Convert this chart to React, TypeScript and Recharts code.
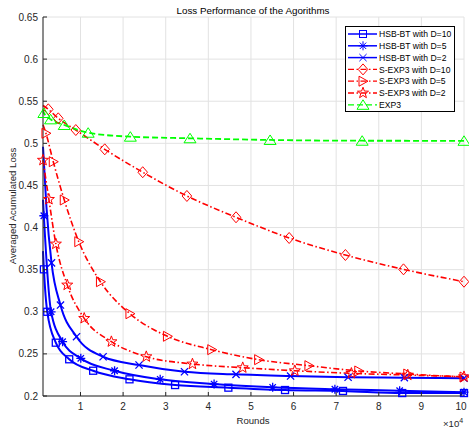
import React from 'react';
import { LineChart, Line, XAxis, YAxis, CartesianGrid } from 'recharts';

const xTicks = [1, 2, 3, 4, 5, 6, 7, 8, 9, 10];
const yTicks = [0.2, 0.25, 0.3, 0.35, 0.4, 0.45, 0.5, 0.55, 0.6, 0.65];

const hsb10X = [0.12, 0.141, 0.22, 0.42, 0.735, 1.297, 2.15, 3.22, 4.47, 5.8, 7.16, 8.55, 10];
const hsb10Y = [0.372, 0.3504, 0.3, 0.2633, 0.2436, 0.23, 0.2198, 0.213, 0.2099, 0.2071, 0.206, 0.2035, 0.2035];

const hsb5X = [0.12, 0.14, 0.31, 0.58, 1.007, 1.8, 2.87, 4.135, 5.51, 6.97, 8.49, 10];
const hsb5Y = [0.433, 0.414, 0.3, 0.2645, 0.2447, 0.23, 0.2198, 0.2142, 0.2103, 0.208, 0.2063, 0.2045];

const hsb2X = [0.12, 0.2, 0.32, 0.53, 0.907, 1.53, 2.374, 3.44, 4.65, 5.93, 7.28, 8.6, 10];
const hsb2Y = [0.496, 0.425, 0.358, 0.308, 0.2704, 0.2466, 0.2368, 0.2288, 0.2257, 0.2237, 0.2222, 0.2217, 0.221];

const sexp10X = [0.12, 0.244, 0.478, 0.89, 1.569, 2.46, 3.497, 4.65, 5.897, 7.217, 8.58, 10];
const sexp10Y = [0.545, 0.5404, 0.5297, 0.5158, 0.4929, 0.4657, 0.4375, 0.4122, 0.3876, 0.3674, 0.3504, 0.3357];

const sexp5X = [0.12, 0.189, 0.361, 0.619, 0.96, 1.468, 2.16, 3.04, 4.08, 5.18, 6.36, 7.53, 8.68, 10];
const sexp5Y = [0.522, 0.5119, 0.4782, 0.4327, 0.3832, 0.3357, 0.2977, 0.2709, 0.255, 0.2431, 0.236, 0.2297, 0.2261, 0.2225];

const sexp2X = [0.12, 0.258, 0.422, 0.689, 1.087, 1.725, 2.544, 3.627, 4.807, 6.03, 7.357, 8.68, 10];
const sexp2Y = [0.48, 0.4335, 0.3805, 0.3318, 0.2922, 0.2645, 0.2467, 0.238, 0.2336, 0.23, 0.2269, 0.2249, 0.2229];

const exp3X = [0.12, 0.141, 0.298, 0.619, 1.18, 2.17, 3.57, 5.45, 7.61, 10];
const exp3Y = [0.54, 0.536, 0.5285, 0.5218, 0.5126, 0.5079, 0.506, 0.504, 0.5031, 0.503];

const names = [
  'HSB-BT with D=10',
  'HSB-BT with D=5',
  'HSB-BT with D=2',
  'S-EXP3 with D=10',
  'S-EXP3 with D=5',
  'S-EXP3 with D=2',
  'EXP3',
];

const BLUE = '#0000ff';
const RED = '#ff0000';
const GREEN = '#00ff00';
const AX = '#262626';
const FONT = '"Liberation Sans", Arial, Helvetica, sans-serif';

type Shape = 'square' | 'asterisk' | 'cross' | 'diamond' | 'right' | 'star' | 'up';

const series = [
  { name: names[0], xs: hsb10X, ys: hsb10Y, color: BLUE, dash: undefined, width: 2, shape: 'square' as Shape, markFrom: 1 },
  { name: names[1], xs: hsb5X, ys: hsb5Y, color: BLUE, dash: undefined, width: 2, shape: 'asterisk' as Shape, markFrom: 1 },
  { name: names[2], xs: hsb2X, ys: hsb2Y, color: BLUE, dash: undefined, width: 2, shape: 'cross' as Shape, markFrom: 2 },
  { name: names[3], xs: sexp10X, ys: sexp10Y, color: RED, dash: '6 2.5 1.5 2.5', width: 1.6, shape: 'diamond' as Shape, markFrom: 1 },
  { name: names[4], xs: sexp5X, ys: sexp5Y, color: RED, dash: '6 2.5 1.5 2.5', width: 1.6, shape: 'right' as Shape, markFrom: 1 },
  { name: names[5], xs: sexp2X, ys: sexp2Y, color: RED, dash: '6 2.5 1.5 2.5', width: 1.6, shape: 'star' as Shape, markFrom: 0 },
  { name: names[6], xs: exp3X, ys: exp3Y, color: GREEN, dash: '6 3', width: 1.8, shape: 'up' as Shape, markFrom: 1 },
];

function starPath(cx: number, cy: number, R: number, r: number) {
  let d = '';
  for (let k = 0; k < 10; k++) {
    const rad = k % 2 === 0 ? R : r;
    const a = -Math.PI / 2 + (k * Math.PI) / 5;
    d += (k === 0 ? 'M' : 'L') + (cx + rad * Math.cos(a)).toFixed(2) + ',' + (cy + rad * Math.sin(a)).toFixed(2);
  }
  return d + 'Z';
}

function Marker({ shape, cx, cy, color, sw }: { shape: Shape; cx: number; cy: number; color: string; sw: number }) {
  const s = { fill: 'none', stroke: color, strokeWidth: sw, strokeDasharray: 'none' };
  switch (shape) {
    case 'square':
      return <rect x={cx - 3.5} y={cy - 3.5} width={7} height={7} {...s} />;
    case 'asterisk':
      return (
        <path
          d={`M${cx - 4.5},${cy}H${cx + 4.5}M${cx},${cy - 4.5}V${cy + 4.5}M${cx - 3.2},${cy - 3.2}L${cx + 3.2},${cy + 3.2}M${cx - 3.2},${cy + 3.2}L${cx + 3.2},${cy - 3.2}`}
          {...s}
        />
      );
    case 'cross':
      return <path d={`M${cx - 3.6},${cy - 3.6}L${cx + 3.6},${cy + 3.6}M${cx - 3.6},${cy + 3.6}L${cx + 3.6},${cy - 3.6}`} {...s} />;
    case 'diamond':
      return <path d={`M${cx},${cy - 5.5}L${cx + 4.8},${cy}L${cx},${cy + 5.5}L${cx - 4.8},${cy}Z`} {...s} />;
    case 'right':
      return <path d={`M${cx - 4},${cy - 5}L${cx + 5},${cy}L${cx - 4},${cy + 5}Z`} {...s} />;
    case 'star':
      return <path d={starPath(cx, cy, 5.8, 2.4)} {...s} />;
    case 'up':
      return <path d={`M${cx},${cy - 5}L${cx + 6},${cy + 4.5}L${cx - 6},${cy + 4.5}Z`} {...s} />;
  }
  return null;
}

const makeDot = (name: string, shape: Shape, color: string, markFrom: number) => (props: any) => {
  const { cx, cy, index } = props;
  if (index < markFrom || cx == null || cy == null) return <g key={`${name}-${index}`} />;
  return (
    <g key={`${name}-${index}`}>
      <Marker shape={shape} cx={cx} cy={cy} color={color} sw={color === BLUE ? 1.3 : 1} />
    </g>
  );
};

const YTick = (props: any) => {
  const { x, y, payload } = props;
  return (
    <g>
      <line x1={x} y1={y} x2={x + 4} y2={y} stroke={AX} strokeWidth={1} />
      <text x={x - 5} y={y + 3.6} textAnchor="end" fontSize={10} fill={AX} fontFamily={FONT}>
        {String(payload.value)}
      </text>
    </g>
  );
};

const XTick = (props: any) => {
  const { x, y, payload } = props;
  return (
    <g>
      <line x1={x} y1={y} x2={x} y2={y - 4} stroke={AX} strokeWidth={1} />
      <text x={x} y={y + 14.3} textAnchor="middle" fontSize={10} fill={AX} fontFamily={FONT}>
        {String(payload.value)}
      </text>
    </g>
  );
};

function LegendBox() {
  const rowH = 11.8;
  return (
    <div
      style={{
        position: 'absolute',
        left: 345,
        top: 26,
        width: 110,
        height: 86,
        boxSizing: 'border-box',
        border: '1px solid #000',
        background: '#fff',
      }}
    >
      <svg width={108} height={84} style={{ position: 'absolute', left: 0, top: 0 }}>
        {series.map((s, i) => {
          const cy = 7 + i * rowH;
          return (
            <g key={s.name}>
              <line x1={2} y1={cy} x2={31} y2={cy} stroke={s.color} strokeWidth={s.width === 2 ? 1.5 : 1.3} strokeDasharray={s.dash} />
              <Marker shape={s.shape} cx={17} cy={cy} color={s.color} sw={1} />
              <text x={33} y={cy + 3.1} fontSize={8.6} fill="#000" fontFamily={FONT}>
                {s.name}
              </text>
            </g>
          );
        })}
      </svg>
    </div>
  );
}

export default function App() {
  return (
    <div style={{ position: 'absolute', left: 0, top: 0, width: 469, height: 428, background: '#fff' }}>
      <LineChart width={469} height={428} margin={{ top: 17, right: 5, bottom: 0, left: 0 }}>
        <CartesianGrid stroke="#e2e2e2" strokeWidth={1} horizontal vertical />
        <XAxis
          dataKey="x"
          type="number"
          domain={[0.12, 10]}
          ticks={xTicks}
          height={32}
          tickSize={0}
          tickMargin={0}
          tickLine={false}
          axisLine={{ stroke: AX, strokeWidth: 1 }}
          tick={<XTick />}
          allowDuplicatedCategory={false}
        />
        <YAxis
          type="number"
          domain={[0.2, 0.65]}
          ticks={yTicks}
          width={43}
          tickSize={0}
          tickMargin={0}
          tickLine={false}
          axisLine={{ stroke: AX, strokeWidth: 1 }}
          tick={<YTick />}
        />
        {series.map((s) => (
          <Line
            key={s.name}
            name={s.name}
            data={s.xs.map((x, i) => ({ x, y: s.ys[i] }))}
            dataKey="y"
            type="monotone"
            stroke={s.color}
            strokeWidth={s.width}
            strokeDasharray={s.dash}
            dot={makeDot(s.name, s.shape, s.color, s.markFrom)}
            activeDot={false}
            isAnimationActive={false}
          />
        ))}
      </LineChart>
      <svg width={469} height={428} style={{ position: 'absolute', left: 0, top: 0, pointerEvents: 'none' }}>
        <text x={253} y={13.5} textAnchor="middle" fontSize={9.8} fill="#000" fontFamily={FONT}>
          Loss Performance of the Agorithms
        </text>
        <text x={253} y={423.5} textAnchor="middle" fontSize={9.6} fill={AX} fontFamily={FONT}>
          Rounds
        </text>
        <text transform="translate(15.5,206) rotate(-90)" textAnchor="middle" fontSize={9.6} fill={AX} fontFamily={FONT}>
          Averaged Acumulated Loss
        </text>
        <text x={443} y={427} fontSize={9.6} fill={AX} fontFamily={FONT}>
          ×10
          <tspan dy={-4.5} fontSize={7}>4</tspan>
        </text>
      </svg>
      <LegendBox />
    </div>
  );
}
